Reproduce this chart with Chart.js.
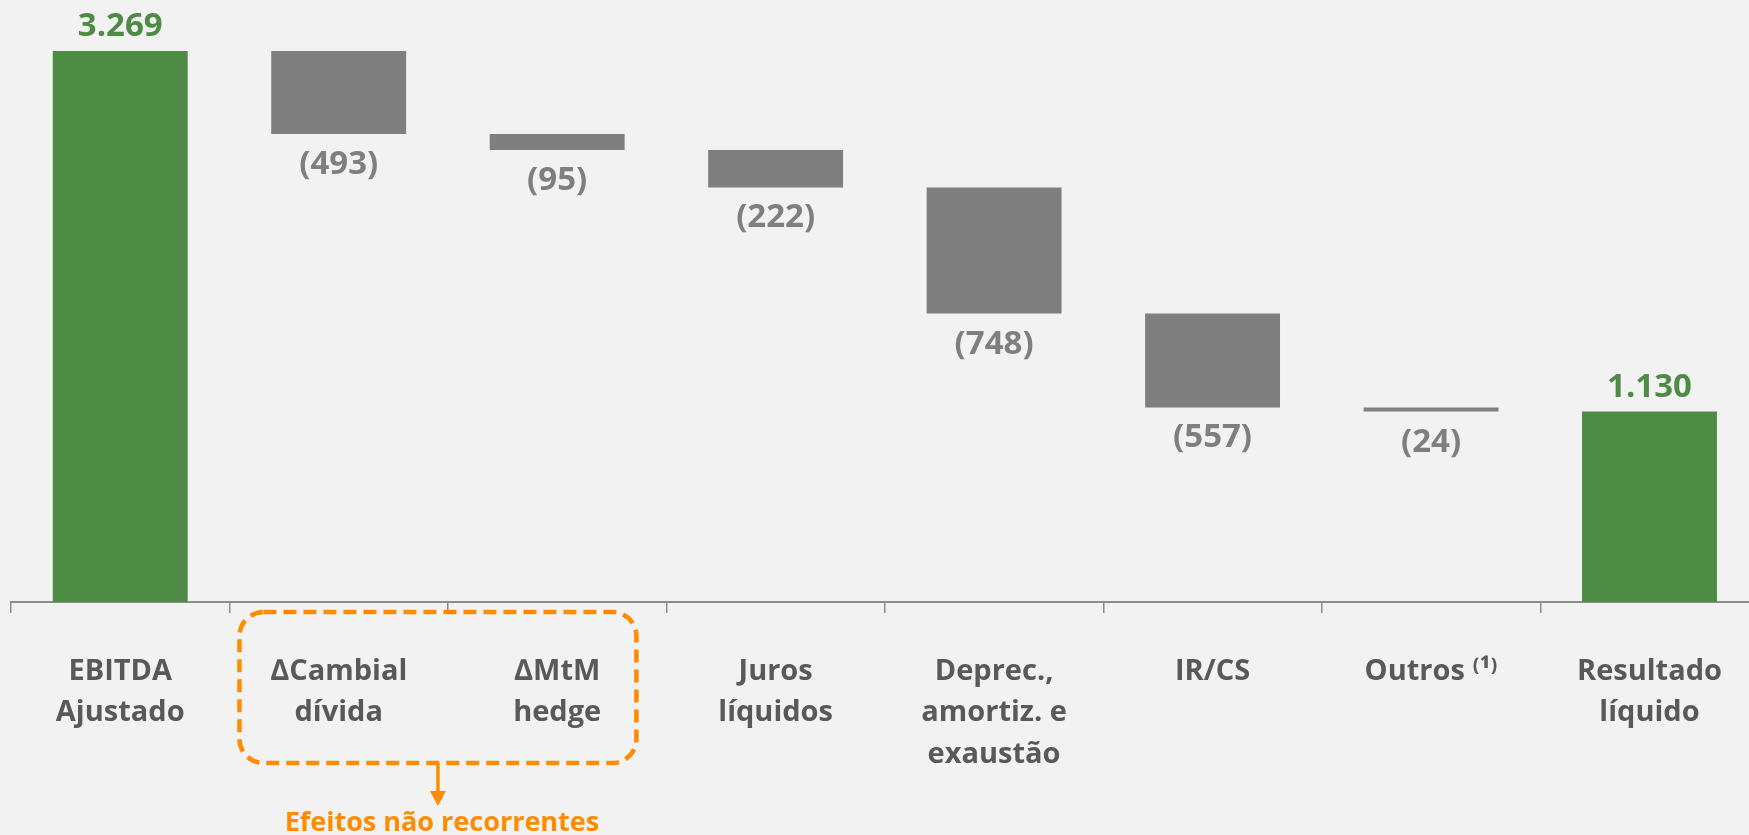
<!DOCTYPE html>
<html>
<head>
<meta charset="utf-8">
<script src="https://cdn.jsdelivr.net/npm/chart.js@4/dist/chart.umd.min.js"></script>
<style>
  html, body { margin: 0; padding: 0; background: #F2F2F2; overflow: hidden; }
  #wrap { position: relative; width: 1760px; height: 835px; }
</style>
</head>
<body>
<div id="wrap"><canvas id="c"></canvas></div>
<script>
// ---- data ----
const categories = [
  'EBITDA\nAjustado',
  '∆Cambial\ndívida',
  '∆MtM\nhedge',
  'Juros\nlíquidos',
  'Deprec.,\namortiz. e\nexaustão',
  'IR/CS',
  'Outros ⁽¹⁾',
  'Resultado\nlíquido'
];
const values = [3269, -493, -95, -222, -748, -557, -24, 1130];
const isTotal = [true, false, false, false, false, false, false, true];
const annotationText = 'Efeitos não recorrentes';

// ---- build waterfall ranges from the values ----
const ranges = [];
let running = 0;
values.forEach((v, i) => {
  if (isTotal[i]) { ranges.push([0, v]); running = v; }
  else { ranges.push([running, running + v]); running += v; }
});

const GREEN = '#4E8C46';
const GRAY = '#7F7F7F';
const FONT = "'Open Sans', 'DejaVu Sans', sans-serif";

function fmt(v) {
  const s = String(Math.abs(v)).replace(/\B(?=(\d{3})+(?!\d))/g, '.');
  return v < 0 ? '(' + s + ')' : s;
}

const valueLabels = {
  id: 'valueLabels',
  afterDatasetsDraw(chart) {
    const ctx = chart.ctx;
    const meta = chart.getDatasetMeta(0);
    ctx.save();
    ctx.font = 'bold 33px ' + FONT;
    ctx.textAlign = 'center';
    ctx.textBaseline = 'alphabetic';
    meta.data.forEach((el, i) => {
      const v = values[i];
      const top = Math.min(el.y, el.base);
      const bottom = Math.max(el.y, el.base);
      if (isTotal[i]) {
        ctx.fillStyle = GREEN;
        ctx.fillText(fmt(v), el.x, top - 15);
      } else {
        ctx.fillStyle = GRAY;
        ctx.fillText(fmt(v), el.x, bottom + 40);
      }
    });
    ctx.restore();
  }
};

const annotation = {
  id: 'annotation',
  afterDraw(chart) {
    const ctx = chart.ctx;
    const xs = chart.scales.x;
    const step = xs.getPixelForValue(2) - xs.getPixelForValue(1);
    const left = xs.getPixelForValue(1) - step / 2 + 10;
    const right = xs.getPixelForValue(2) + step / 2 - 30;
    const top = xs.top + 10;
    const bottom = xs.top + 161;
    const cx = (left + right) / 2;
    ctx.save();
    ctx.strokeStyle = '#FF8C00';
    ctx.fillStyle = '#FF8C00';
    ctx.lineWidth = 4.5;
    ctx.setLineDash([13, 7]);
    ctx.beginPath();
    ctx.roundRect(left, top, right - left, bottom - top, 24);
    ctx.stroke();
    ctx.setLineDash([]);
    ctx.lineWidth = 3.5;
    ctx.beginPath();
    ctx.moveTo(cx, bottom);
    ctx.lineTo(cx, bottom + 30);
    ctx.stroke();
    ctx.beginPath();
    ctx.moveTo(cx - 8, bottom + 28);
    ctx.lineTo(cx + 8, bottom + 28);
    ctx.lineTo(cx, bottom + 43);
    ctx.closePath();
    ctx.fill();
    ctx.font = 'bold 27px ' + FONT;
    ctx.textAlign = 'center';
    ctx.textBaseline = 'alphabetic';
    ctx.fillText(annotationText, cx + 4, bottom + 68);
    ctx.restore();
  }
};

new Chart(document.getElementById('c'), {
  type: 'bar',
  data: {
    labels: categories.map(c => c.split('\n')),
    datasets: [{
      data: ranges,
      backgroundColor: isTotal.map(t => t ? GREEN : GRAY),
      borderWidth: 0,
      categoryPercentage: 1,
      barPercentage: 0.6175
    }]
  },
  options: {
    responsive: true,
    maintainAspectRatio: false,
    animation: false,
    layout: { padding: { left: 11, right: 0, top: 12, bottom: 0 } },
    plugins: { legend: { display: false }, tooltip: { enabled: false } },
    scales: {
      y: { display: false, min: 0, max: 3500 },
      x: {
        afterFit(s) { s.height = 233; },
        grid: {
          display: true,
          drawOnChartArea: false,
          drawTicks: true,
          tickLength: 11,
          color: '#8C8C8C',
          lineWidth: 1.5,
          offset: true
        },
        border: { display: true, color: '#8C8C8C', width: 2 },
        ticks: {
          color: '#595959',
          padding: 38,
          maxRotation: 0,
          autoSkip: false,
          font: { family: FONT, weight: 'bold', size: 29, lineHeight: 1.43 }
        }
      }
    }
  },
  plugins: [valueLabels, annotation]
});
</script>
</body>
</html>
